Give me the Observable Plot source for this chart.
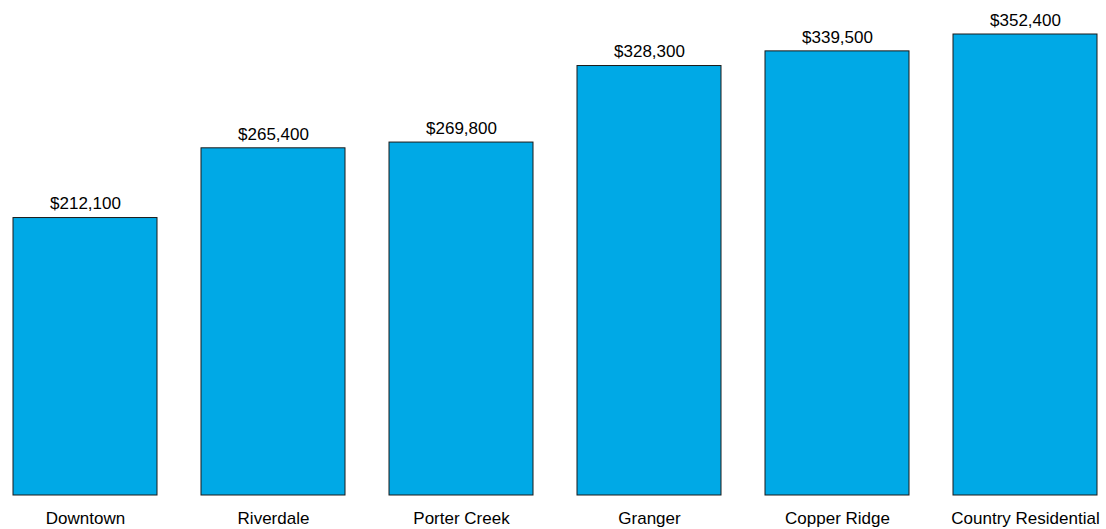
<!DOCTYPE html>
<html>
<head>
<meta charset="utf-8">
<script src="https://cdn.jsdelivr.net/npm/d3@7"></script>
<script src="https://cdn.jsdelivr.net/npm/@observablehq/plot@0.6"></script>
<style>
  html, body { margin: 0; padding: 0; background: #fff; }
  #chart svg { display: block; }
</style>
</head>
<body>
<div id="chart"></div>
<script>
const categories = ["Downtown", "Riverdale", "Porter Creek", "Granger", "Copper Ridge", "Country Residential"];
const values = [212100, 265400, 269800, 328300, 339500, 352400];

const data = categories.map((c, i) => ({ category: c, value: values[i] }));
const fmt = d => "$" + d3.format(",")(d);

const chart = Plot.plot({
  width: 1106,
  height: 529,
  marginTop: 34,
  marginBottom: 34,
  marginLeft: 11,
  marginRight: 6,
  style: { fontFamily: "Liberation Sans, Arial, sans-serif", fontSize: "17px", background: "#fff" },
  x: { domain: categories, paddingInner: 0.232, paddingOuter: 0, label: null },
  y: { domain: [0, 352400], axis: null },
  marks: [
    Plot.barY(data, { x: "category", y: "value", fill: "#00a9e6", stroke: "#1a1a1a", strokeWidth: 1 }),
    Plot.text(data, { x: "category", y: "value", text: d => fmt(d.value), dy: -14, fontSize: 17, fill: "#000" }),
    Plot.axisX({ tickSize: 0, tickPadding: 16, fontSize: 17, label: null, fill: "#000" })
  ]
});
document.getElementById("chart").appendChild(chart);
</script>
</body>
</html>
